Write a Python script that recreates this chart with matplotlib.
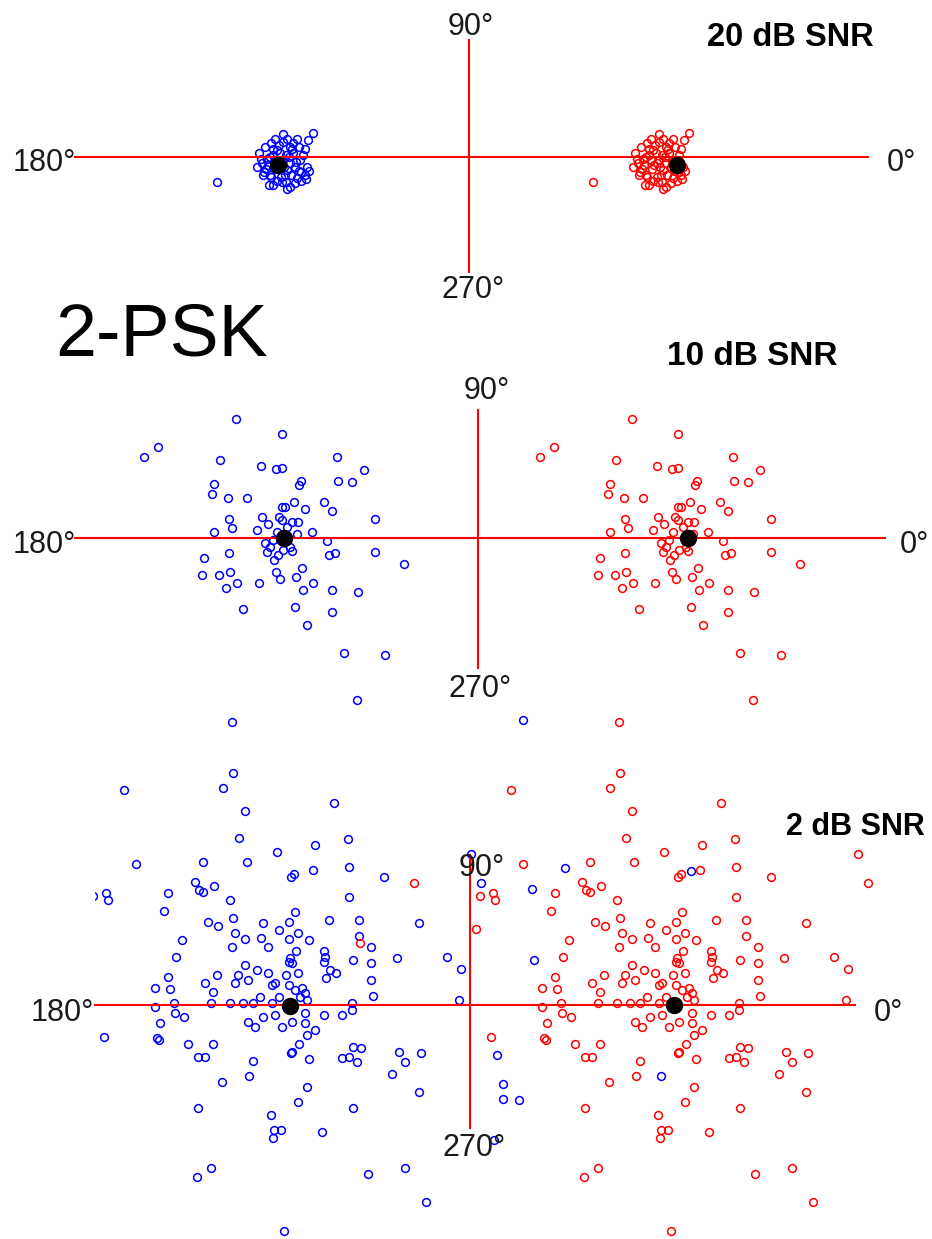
import matplotlib
matplotlib.use('Agg')
import matplotlib.pyplot as plt

plt.rcParams['font.family'] = ['Liberation Sans', 'DejaVu Sans']

W, H = 932, 1239

# ---- 20 dB SNR : noise offsets (I, Q) added to both symbols ----
amp20 = 188
noise20_i = [-64, 32, 27, 24, 2, 2, -10, -22, -24, -17, -19, -8, 9, 1, 16, 24, 26, 19,
             -11, 9, -4, 12, 6, -11, 2, -6, 9, 4, -1, -13, 14, -8, 5, 18, -15, -3,
             -14, -10, -5, 0, 5, 10, 15, 20, 22, 18, 12, 6, -2, -8, 0, 3, 8, -4, 14,
             20, -16, -20, 28, 25, -12, 6, 11, -6, 16, -18]
noise20_q = [-25, 24, 17, 8, 23, 15, 14, 4, -10, -15, -6, -28, -30, -25, -21, -18, -10, -3,
             0, 10, 7, 4, -13, -18, -3, -3, -6, -18, 4, -8, -10, 8, 2, -14, -12, -8,
             -2, -20, -12, -20, -25, -18, -5, -15, 2, 10, 14, 18, 12, 2, -6, -10, 0, -24, -26,
             -24, 10, -2, -14, -22, -28, -32, 8, 18, 18, -18]
est20_i = [-191, 208]
est20_q = [-8, -8]

# ---- 10 dB SNR ----
amp10 = 198
noise10_i = [-44, 2, -122, -136, -60, -19, -4, 2, 57, 84, 58, 72, 21, 19, -66, -68, -52, -33,
             14, 25, 44, 52, 2, 5, -51, -48, -66, -18, -12, -23, -1, 12, 18, 32, 95, 47, 95, 124,
             -76, -51, -78, -61, -50, -43, -54, -21, -6, -4, 0, 16, 22, 23, 33, 49, 55, 52, 78,
             -37, 15, 52, 27, 64, 105, 77,
             -10, 3, 12, -15, -3, 7, -7, 17, 2, 10, -13, -2]
noise10_q = [119, 104, 91, 81, 78, 72, 69, 70, 81, 68, 57, 56, 57, 53, 54, 44, 40, 40,
             36, 29, 36, 27, 31, 31, 19, 10, 6, 21, 14, 8, 21, 16, 16, 6, 19, -3, -14, -26,
             -20, -15, -37, -37, -34, -45, -50, -45, -22, -34, -41, -39, -30, -52, -45, -17, -15, -52, -54,
             -71, -69, -74, -87, -115, -117, -162,
             -9, -12, -13, -5, 6, 11, -2, 4, 18, -9, -14, -17]
est10_i = [-194, 210]
est10_q = [0, 0]

# ---- 2 dB SNR ----
amp2 = 193.5
noise2_i = [-153, -250, -141, -184, -171, -169, -188, -304,
            -45, -44, -54, 57, -32, -38, 71, 38, 0, -74, -30, 72, 36, 17, 14, -82, -63, -74, -78,
            -109, -47, 72, -113, -44, 18, 52, -69, -59, -14, 2, 12, 21, -95, -42, -32, -16, 12, 32,
            -45, -9, 19, 47, -101, 13, 48, 76,
            107, 194, 204, 82, 142, 82, 94, 120, 170,
            -32, -20, -9, 12, 15, 47, 53, 59, 49, -109, -107, -122, -60, -72, -64, -66, -39, -42,
            -29, -5, 9, 21, 12, -2, 18, 25, 28, 23, 30, -17, 2, -5, -103, -102, -93, -122, -47,
            -34, -24, -29, -22, -14, -2, 5, 15, 28, 28, 30, 38, 47, 65, 75, -117, -120, -118, -89,
            -64, -79, -72, -24, 15, 14, 22, 32, 65, -28, -55, 30, 21, -79, -6, -3, 4, -4, 45, -66,
            -80, 7, -173,
            94, 184, 94, 96, 182, 75, 76, 84, 72, 80, 122, 128, 144, 115, 142, 76, 91, 128, 149,
            246, 255, 257, 220, 226, 226, 242, 217, 288, 414, 384]
noise2_q = [215, 122, 141, 109, 112, 105, 76, 62,
            283, 232, 217, 202, 194, 167, 166, 160, 153, 143, 143, 138, 135, 131, 128, 123, 119, 113, 115,
            112, 105, 108, 94, 87, 93, 85, 83, 79, 82, 75, 83, 72, 65, 72, 66, 67, 66, 65,
            58, 58, 54, 54, 48, 47, 48, 45,
            128, 151, 122, 85, 82, 69, 58, 47, 48,
            40, 35, 32, 43, 42, 43, 35, 32, 27, 28, 16, 17, 30, 22, 13, 2, 30, 22,
            25, 20, 30, 32, 20, 22, 15, 17, 12, 8, 5, 8, 8, 2, 2, -8, -12, -2, 2,
            2, 2, -17, -22, -12, -10, -22, -17, -8, -18, -30, -25, -10, -10, 2, -18, -33, -35, -39,
            -39, -52, -52, -56, -47, -48, -39, -54, -53, -71, -77, -82, -97, -103, -110, -125, -125, -133, -127, -163,
            -172, -226, -32,
            42, 36, 25, 9, 5, -5, -42, -43, -52, -57, -47, -57, -48, -69, -87, -103, -169, -163, -197,
            285, 116, 45, -50, -79, -94, -95, -135, 137, 134, -71]
est2_i = [-180, 204]
est2_q = [-1, 0]

fig = plt.figure(figsize=(W / 100, H / 100), dpi=100)


def panel(box, origin, amp, ni, nq, ei, eq, hline, vline, clip=False):
    x0, y0, x1, y1 = box
    ox, oy = origin
    ax = fig.add_axes([x0 / W, 1 - y1 / H, (x1 - x0) / W, (y1 - y0) / H])
    ax.set_xlim(x0 - ox, x1 - ox)
    ax.set_ylim(oy - y1, oy - y0)
    ax.axis('off')
    ax.patch.set_alpha(0)
    ax.plot([-amp + v for v in ni], nq, 'o', ms=5.6, mfc='none', mec='#0000ff',
            mew=1.1, clip_on=clip)
    ax.plot([amp + v for v in ni], nq, 'o', ms=5.6, mfc='none', mec='#ff0000',
            mew=1.1, clip_on=clip)
    ax.plot(hline, [0, 0], color='#ff0000', lw=1.5, clip_on=False)
    ax.plot([0, 0], vline, color='#ff0000', lw=1.5, clip_on=False)
    ax.plot(ei, eq, 'o', ms=11.5, color='black', clip_on=clip)
    return ax


def label(ax, origin, x, yb, s, ha, size=22, weight='normal', color='#1a1a1a'):
    ox, oy = origin
    ax.text(x - ox, oy - yb, s, ha=ha, va='baseline', fontsize=size,
            fontweight=weight, color=color, clip_on=False)


o20 = (469, 157)
ax20 = panel((0, 0, 932, 330), o20, amp20, noise20_i, noise20_q, est20_i, est20_q,
             (-394, 399), (-115, 117))
label(ax20, o20, 471, 35, '90°', 'center')
label(ax20, o20, 473, 298, '270°', 'center')
label(ax20, o20, 76, 171, '180°', 'right')
label(ax20, o20, 887, 171, '0°', 'left')
label(ax20, o20, 707, 46, '20 dB SNR', 'left', size=23.5, weight='bold', color='black')

o10 = (478, 538)
ax10 = panel((0, 365, 932, 712), o10, amp10, noise10_i, noise10_q, est10_i, est10_q,
             (-403, 407), (-130, 128))
label(ax10, o10, 487, 399, '90°', 'center')
label(ax10, o10, 480, 697, '270°', 'center')
label(ax10, o10, 76, 553, '180°', 'right')
label(ax10, o10, 900, 553, '0°', 'left')
label(ax10, o10, 667, 365, '10 dB SNR', 'left', size=24, weight='bold', color='black')

o2 = (470, 1005)
ax2 = panel((95, 712, 873, 1239), o2, amp2, noise2_i, noise2_q, est2_i, est2_q,
            (-375, 385), (-123, 150), clip=True)
label(ax2, o2, 482, 876, '90°', 'center')
label(ax2, o2, 474, 1156, '270°', 'center')
label(ax2, o2, 94, 1021, '180°', 'right')
label(ax2, o2, 874, 1021, '0°', 'left')
label(ax2, o2, 786, 835, '2 dB SNR', 'left', size=22, weight='bold', color='black')

fig.text(55 / W, 1 - 355 / H, '2-PSK', fontsize=53, ha='left', va='baseline', color='black')

fig.savefig('out.png', dpi=100)
